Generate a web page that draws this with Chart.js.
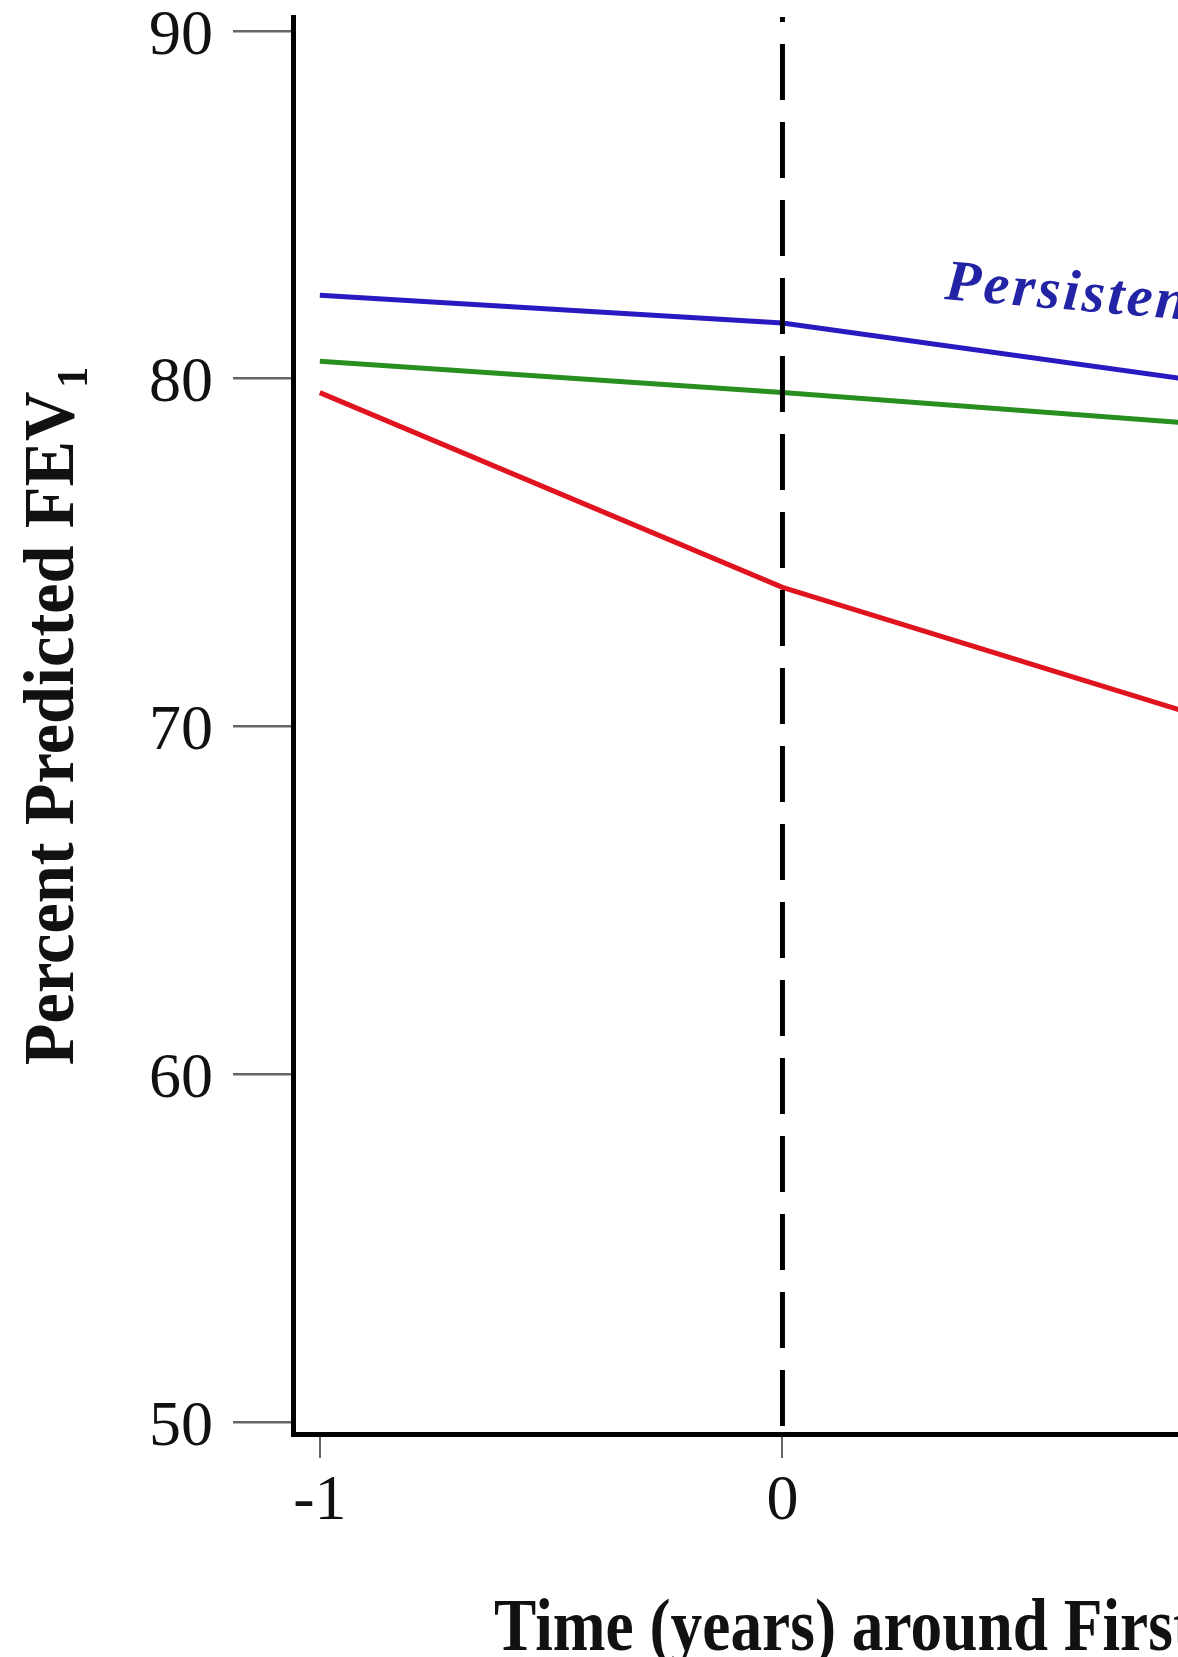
<!DOCTYPE html>
<html>
<head>
<meta charset="utf-8">
<script src="https://cdn.jsdelivr.net/npm/chart.js@4.4.1/dist/chart.umd.min.js"></script>
<style>
  html, body { margin: 0; padding: 0; background: #fff; overflow: hidden; }
  #wrap { width: 1178px; height: 1657px; position: relative; }
</style>
</head>
<body>
<div id="wrap"><canvas id="fev"></canvas></div>
<script>
// years around first event
const years = [-1, 0, 1]
// percent predicted FEV1 per group
const persistentValues = [82.4, 81.6, 79.75]
const greenGroupValues = [80.5, 79.6, 78.6]
const redGroupValues = [79.6, 74.0, 69.9]

const yTicks = [50, 60, 70, 80, 90]
const xTicks = [-1, 0]

// visible window of the (cropped) figure
const xMin = -1.058, xMax = 0.855
const yMin = 49.655, yMax = 90.4

const serif = "'Liberation Serif', 'Times New Roman', serif"

function pts(vals) {
  return years.map((x, i) => ({ x: x, y: vals[i] }))
}

// titles + in-plot label, drawn by hand so the subscript and cropping match
const textPlugin = {
  id: "texts",
  afterDraw(chart) {
    const ctx = chart.ctx

    // y title with subscript
    ctx.save()
    ctx.translate(73, 716)
    ctx.rotate(-Math.PI / 2)
    ctx.scale(0.95, 1)
    ctx.fillStyle = "#111"
    ctx.font = "bold 72px " + serif
    const main = "Percent Predicted FEV"
    const wMain = ctx.measureText(main).width
    ctx.font = "bold 44px " + serif
    const wSub = ctx.measureText("1").width
    const x0 = -(wMain + wSub + 4) / 2
    ctx.textBaseline = "alphabetic"
    ctx.font = "bold 72px " + serif
    ctx.fillText(main, x0, 0)
    ctx.font = "bold 44px " + serif
    ctx.fillText("1", x0 + wMain + 4, 14)
    ctx.restore()

    // x title (cut by right edge like the reference)
    ctx.save()
    ctx.fillStyle = "#111"
    ctx.font = "bold 75px " + serif
    ctx.textBaseline = "alphabetic"
    ctx.translate(494, 1650)
    ctx.scale(0.845, 1)
    ctx.fillText("Time (years) around First", 0, 0)
    ctx.restore()

    // series label
    ctx.save()
    ctx.fillStyle = "#2323a6"
    ctx.font = "italic bold 58px " + serif
    ctx.letterSpacing = "3px"
    ctx.translate(944, 299)
    ctx.rotate(4.9 * Math.PI / 180)
    ctx.fillText("Persistent", 0, 0)
    ctx.restore()
  },
}

const config = {
  type: "line",
  data: {
    datasets: [
      {
        label: "first event",
        data: [{ x: 0, y: yMax }, { x: 0, y: yMin }],
        borderColor: "#000",
        borderWidth: 5,
        borderDash: [56, 22],
        borderDashOffset: 51,
        borderCapStyle: "butt",
        pointRadius: 0,
      },
      {
        label: "Persistent",
        data: pts(persistentValues),
        borderColor: "rgb(40, 26, 192)",
        borderWidth: 5,
        pointRadius: 0,
      },
      {
        label: "green",
        data: pts(greenGroupValues),
        borderColor: "rgb(40, 142, 32)",
        borderWidth: 5,
        pointRadius: 0,
      },
      {
        label: "red",
        data: pts(redGroupValues),
        borderColor: "rgb(224, 20, 30)",
        borderWidth: 5,
        pointRadius: 0,
      },
    ],
  },
  options: {
    responsive: true,
    maintainAspectRatio: false,
    animation: false,
    layout: { padding: { top: 17, right: 0, left: 0, bottom: 0 } },
    plugins: { legend: { display: false }, tooltip: { enabled: false } },
    elements: { line: { tension: 0 } },
    scales: {
      x: {
        type: "linear",
        min: xMin,
        max: xMax,
        afterBuildTicks: (s) => { s.ticks = xTicks.map((v) => ({ value: v })) },
        afterFit: (s) => { s.height = 223; s.paddingLeft = 0; s.paddingRight = 0 },
        grid: { drawOnChartArea: false, drawTicks: true, tickLength: 24, color: "#666", lineWidth: 2 },
        border: { display: true, color: "#000", width: 5 },
        ticks: {
          font: { family: serif, size: 64 },
          color: "#111",
          padding: 6,
          maxRotation: 0,
          callback: (v) => String(v),
        },
      },
      y: {
        min: yMin,
        max: yMax,
        afterBuildTicks: (s) => { s.ticks = yTicks.map((v) => ({ value: v })) },
        afterFit: (s) => { s.width = 293; s.paddingTop = 0; s.paddingBottom = 0 },
        grid: { drawOnChartArea: false, drawTicks: true, tickLength: 60, color: "#666", lineWidth: 2.5 },
        border: { display: true, color: "#000", width: 5 },
        ticks: {
          font: { family: serif, size: 64 },
          color: "#111",
          padding: 20,
          labelOffset: 6,
          callback: (v) => String(v),
        },
      },
    },
  },
  plugins: [textPlugin],
}

const fevChart = new Chart(document.getElementById("fev"), config)
</script>
</body>
</html>
